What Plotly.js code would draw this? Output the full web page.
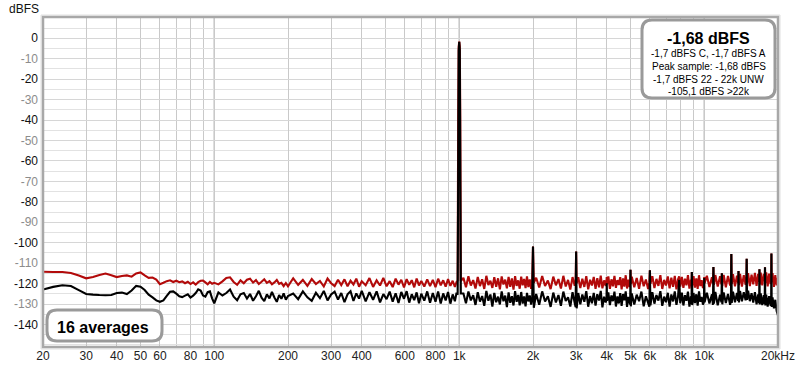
<!DOCTYPE html>
<html>
<head>
<meta charset="utf-8">
<script src="https://cdn.plot.ly/plotly-3.0.1.min.js"></script>
<style>html,body{margin:0;padding:0;background:#fff;}#chart{width:800px;height:370px;}</style>
</head>
<body>
<div id="chart"></div>
<script>
// ---------- DATA ----------
// 20 Hz - 100 Hz
const fA = [20,22,24,26,28,30,32,34,36,38,40,42,44,46,48,50,52,54,56,58,60,62,64,66,68,70,72,74,76,78,80,82,84,86,88,90,92,94,96,98,100];
const redA = [-114.2,-114.3,-114.3,-114.8,-116,-117.4,-116.8,-115.8,-115.1,-115.9,-116.8,-116.3,-116,-116.6,-115,-114.5,-116,-117.2,-117,-118,-120.3,-119.6,-118.8,-118.4,-119.2,-118.6,-119.3,-118.9,-119.8,-119.1,-120.2,-119.4,-120.5,-119.3,-118.6,-118.5,-119.4,-120.3,-119.2,-120.1,-119.6];
const blackA = [-122.9,-121.6,-120.8,-121.2,-123.2,-125.1,-125.4,-125.6,-125.7,-125.6,-124.6,-124.4,-125.1,-123.4,-121.1,-121.5,-123.1,-125.4,-126.7,-128.2,-128.9,-128.2,-126,-124,-123.8,-124.9,-126.2,-126.6,-125.9,-125.2,-126.8,-125.9,-124.6,-122.8,-123.4,-125.8,-126.4,-124.2,-123.8,-127.2,-129.6];
// 100 Hz - 200 Hz
const fB = [104,108,112,116,120,124,128,132,136,140,144,148,152,156,160,164,168,172,176,180,184,188,192,196,200];
const redB = [-120.4,-118.9,-117.2,-116.9,-119.2,-120.6,-118.4,-119.8,-118.1,-117.6,-119.5,-118.3,-120.2,-119.1,-117.9,-119.6,-118.8,-120.3,-119.4,-118.2,-120.1,-119.6,-121.2,-119.7,-121.3];
const blackB = [-124.3,-125.8,-124.6,-122.9,-126.4,-128.1,-125.2,-124.6,-127.3,-125.1,-128.4,-126.2,-123.5,-126.9,-128.6,-125.3,-127.2,-124.1,-126.8,-128.9,-125.6,-127.4,-124.8,-127.9,-126.1];
// 200 Hz - 1 kHz
const fC = [210,220,230,240,250,260,270,280,290,300,310,320,330,340,350,360,370,380,390,400,
            415,430,445,460,475,490,505,520,535,550,565,580,595,610,625,640,655,670,685,700,
            720,740,760,780,800,820,840,860,880,900,920,940,960,975];
const redC = [-117.4,-120.6,-118.2,-121.1,-117.8,-120.2,-118.7,-121.4,-117.5,-119.8,-121.2,-118.1,-120.7,-117.9,-121.3,-118.6,-120.4,-117.6,-121.5,-118.9,
              -120.8,-117.3,-121.6,-118.4,-120.9,-117.2,-121.3,-118.8,-121.7,-117.6,-120.5,-118.1,-121.9,-117.8,-120.6,-118.3,-121.8,-117.5,-120.9,-118.7,
              -121.4,-117.9,-121.2,-118.2,-121.7,-117.6,-120.8,-118.4,-121.5,-117.8,-121.1,-118.6,-121.6,-119.2];
const blackC = [-124.9,-127.6,-123.8,-126.7,-128.4,-124.5,-127.1,-123.6,-128.2,-125.3,-123.9,-127.8,-124.6,-129.1,-125.2,-123.7,-128.5,-124.8,-127.3,-123.5,
                -128.7,-124.2,-127.9,-123.8,-129.2,-125.1,-127.6,-123.9,-128.8,-124.7,-129.5,-124.1,-127.4,-123.7,-129.3,-125.2,-128.1,-124.3,-129.6,-124.9,
                -128.3,-123.8,-129.4,-124.6,-128.9,-123.9,-129.7,-124.8,-128.2,-124.1,-129.8,-125.3,-128.6,-124.4];
// 1 kHz fundamental
const fS = [985,990,995,1000,1005,1010,1015];
const redS = [-118.5,-40,-4,-1.7,-4,-40,-118.7];
const blackS = [-125.5,-70,-6,-1.7,-6,-70,-124.8];
// 1 kHz - 2 kHz
const fD = [1040,1065,1090,1115,1140,1165,1190,1215,1240,1265,1290,1315,1340,1365,1390,1415,1440,1465,1490,1515,
            1540,1565,1590,1615,1640,1665,1690,1715,1740,1765,1790,1815,1840,1865,1890,1915,1940,1965,1985,2000,2015];
const redD = [-117.2,-121.8,-116.4,-120.9,-118.3,-122.4,-116.8,-121.2,-117.9,-122.6,-116.2,-120.7,-118.6,-122.1,-116.9,-121.5,-117.4,-122.8,-116.5,-120.4,
              -118.1,-122.3,-116.7,-121.6,-117.5,-122.9,-116.3,-121.1,-118.4,-122.5,-116.6,-120.8,-117.7,-122.2,-116.4,-121.7,-117.9,-122.6,-118.2,-101.8,-119.6];
const blackD = [-124.8,-129.6,-123.9,-128.2,-125.7,-130.4,-124.2,-128.8,-126.1,-130.9,-123.6,-128.4,-125.3,-131.2,-124.6,-129.1,-126.4,-130.2,-123.8,-128.6,
                -125.9,-131.5,-124.3,-129.4,-126.2,-130.7,-123.7,-128.9,-125.5,-130.6,-124.1,-129.8,-126.3,-131.1,-124.5,-128.7,-125.8,-130.3,-127.2,-101.8,-131.8];
// 2 kHz - 5 kHz
const fE = [2060,2120,2180,2240,2300,2360,2420,2480,2540,2600,2660,2720,2780,2840,2900,2960,
            2985,3000,3015,
            3060,3120,3180,3240,3300,3360,3420,3480,3540,3600,3660,3720,3780,3840,3900,3960,
            3990,4000,4010,
            4060,4120,4180,4240,4300,4360,4420,4480,4540,4600,4660,4720,4780,4840,4900,4960,
            4985,5000,5015];
const redE = [-117.1,-121.9,-116.3,-121.2,-118.5,-122.7,-116.6,-120.8,-117.8,-122.4,-116.2,-121.4,-118.2,-122.9,-116.8,-121.1,
              -119.3,-104.3,-119.8,
              -116.9,-122.2,-117.6,-121.6,-116.4,-122.8,-118.1,-120.9,-116.7,-122.5,-117.3,-121.8,-116.1,-122.3,-118.4,-121.2,
              -118.6,-116.8,-120.4,
              -116.5,-122.6,-117.9,-121.3,-116.2,-122.1,-118.3,-120.7,-116.8,-122.8,-117.4,-121.5,-115.9,-122.4,-118.1,-121.7,
              -119.5,-113.2,-120.2];
const blackE = [-125.1,-130.3,-123.8,-128.7,-126.2,-131.4,-124.4,-129.2,-125.6,-130.8,-123.9,-128.5,-126.7,-131.2,-124.2,-129.5,
                -131.5,-104.3,-132.1,
                -124.6,-130.1,-125.3,-128.9,-123.7,-131.3,-126.1,-129.6,-124.5,-130.7,-125.2,-128.3,-123.6,-131.6,-126.4,-129.2,
                -127.8,-119.8,-128.4,
                -124.3,-130.5,-125.8,-128.6,-123.9,-131.2,-126.3,-129.7,-124.6,-130.9,-125.1,-128.2,-123.8,-131.4,-126.5,-129.3,
                -130.2,-113.2,-131.1];
// 5 kHz - 10 kHz
const fF = [5060,5180,5300,5420,5540,5660,5780,5900,
            5970,6000,6030,
            6140,6260,6380,6500,6620,6740,6860,6980,7100,7220,7340,7460,7580,7700,7820,
            7900,
            7980,8100,8220,8340,8460,8580,8700,8820,
            8870,8900,8930,
            9040,9160,9280,9400,9520,9640,9760,9880,
            9970,10000,10030];
const redF = [-116.6,-121.8,-117.2,-122.5,-116.1,-121.3,-118,-122.7,
              -119.4,-113.5,-120.1,
              -116.4,-122.2,-117.7,-121.1,-115.9,-122.6,-118.2,-120.9,-116.5,-122.3,-117.1,-121.6,-116.2,-122.8,-117.9,
              -116.4,
              -121.5,-116.7,-122.1,-117.6,-120.8,-115.8,-122.4,-118.1,
              -120.6,-114.3,-121.2,
              -116.3,-121.9,-117.4,-122.6,-115.9,-121.2,-118.3,-122.2,
              -120.4,-116.8,-119.8];
const blackF = [-124.8,-130.2,-125.4,-128.6,-123.9,-131.1,-126.2,-129.4,
                -131.3,-113.5,-130.6,
                -124.2,-129.8,-125.6,-128.3,-123.7,-130.9,-126.4,-129.1,-124.5,-131.2,-125.3,-128.7,-123.8,-130.4,-126.1,
                -118.2,
                -129.6,-124.4,-130.7,-125.7,-128.4,-123.9,-131.3,-126.3,
                -129.9,-114.3,-130.5,
                -124.6,-129.5,-125.2,-130.8,-123.8,-128.9,-126.5,-130.3,
                -128.8,-117.2,-129.1];
// 10 kHz - 20 kHz
const fG = [10250,10500,10750, 10850,10900,10950, 11100,11350,11600, 11750,11800,11850,
            12000,12250,12500,12750, 12850,12900,12950, 13100,13350,13600, 13750,13800,13850,
            14000,14250,14500,14750, 14850,14900,14950, 15100,15350,15600,15850,16100,16350,16600,
            16750,16800,16850, 17000,17250,17500, 17650,17700,17750, 17900,18150,18400,18650,
            18750,18800,18850, 19000,19250,19500,19750,20000];
const redG = [-116.2,-121.7,-116.9, -119.8,-111.9,-120.6, -115.8,-121.4,-116.4, -120.3,-115,-121.2,
              -115.7,-121.8,-116.3,-120.9, -118.9,-105.5,-120.2, -115.4,-121.3,-116.1, -119.7,-113.8,-120.8,
              -115.2,-121.5,-115.9,-120.6, -118.4,-107.8,-119.9, -114.9,-121.2,-115.6,-120.4,-114.7,-121.1,-115.3,
              -119.2,-113,-120.5, -114.6,-120.9,-115.2, -118.7,-112,-119.6, -114.5,-121.3,-115.1,-120.2,
              -118.1,-105.3,-119.4, -114.8,-121.6,-115.9,-120.8,-117.1];
const blackG = [-124.5,-129.7,-125.2, -130.4,-111.9,-129.8, -124.1,-130.6,-125.4, -129.2,-115,-130.1,
                -124.3,-129.5,-125.1,-130.3, -128.6,-105.5,-129.4, -123.9,-129.1,-124.6, -128.4,-113.8,-129.2,
                -123.6,-128.7,-124.2,-128.1, -127.3,-107.8,-127.9, -123.4,-128.6,-124.7,-129.3,-124.2,-130.1,-125.3,
                -129.6,-113,-130.2, -124.8,-130.5,-125.6, -129.9,-112,-130.7, -125.4,-131.2,-126.1,-130.8,
                -130.3,-105.3,-131.4, -126.7,-132.1,-127.9,-133.4,-135.6];

const xTickVals = [20,30,40,50,60,80,100,200,300,400,600,800,1000,2000,3000,4000,5000,6000,8000,10000,20000];
const xTickText = ['20','30','40','50','60','80','100','200','300','400','600','800','1k','2k','3k','4k','5k','6k','8k','10k','20kHz'];
const xMinorVals = [70,90,500,700,900,7000,9000];
const xMajorLines = [100,1000,10000];
const yTickVals = [0,-10,-20,-30,-40,-50,-60,-70,-80,-90,-100,-110,-120,-130,-140];
const yMinorVals = [5,-5,-15,-25,-35,-45,-55,-65,-75,-85,-95,-105,-115,-125,-135,-145,-150];

const headline = '-1,68 dBFS';
const infoLines = ['-1,7 dBFS C, -1,7 dBFS A','Peak sample: -1,68 dBFS','-1,7 dBFS 22 - 22k UNW','-105,1 dBFS >22k'];
const averagesText = '16 averages';

// ---------- BUILD ----------
const segs = [[fA,redA,blackA,'A'],[fB,redB,blackB,'B'],[fC,redC,blackC,'C'],[fS,redS,blackS,'S'],
              [fD,redD,blackD,'D'],[fE,redE,blackE,'E'],[fF,redF,blackF,'F'],[fG,redG,blackG,'G']];
let freqs=[], red=[], black=[];
segs.forEach(s=>{
  if(s[0].length!==s[1].length||s[0].length!==s[2].length) throw new Error('length mismatch '+s[3]+' '+s[0].length+' '+s[1].length+' '+s[2].length);
  freqs=freqs.concat(s[0]); red=red.concat(s[1]); black=black.concat(s[2]);
});

const L=43, T=17, W=735, H=330;
const px = x => (x-L)/W, py = y => (T+H-y)/H;
function roundRect(x0,y0,x1,y1,r){
  const f=(x,y)=>px(x).toFixed(5)+','+py(y).toFixed(5);
  return 'M'+f(x0+r,y0)+' L'+f(x1-r,y0)+' Q'+f(x1,y0)+' '+f(x1,y0+r)+
         ' L'+f(x1,y1-r)+' Q'+f(x1,y1)+' '+f(x1-r,y1)+
         ' L'+f(x0+r,y1)+' Q'+f(x0,y1)+' '+f(x0,y1-r)+
         ' L'+f(x0,y0+r)+' Q'+f(x0,y0)+' '+f(x0+r,y0)+' Z';
}

const yTickText = yTickVals.map((v,i)=> (i%2===0) ? String(v) : '<span style="color:#8c8c8c">'+v+'</span>');

const FONT = 'Liberation Sans, Arial, sans-serif';

const traces = [
  {x:freqs, y:red, type:'scatter', mode:'lines', line:{color:'#b20a0a', width:2.1, simplify:false}, hoverinfo:'skip'},
  {x:freqs, y:black, type:'scatter', mode:'lines', line:{color:'#000000', width:2.1, simplify:false}, hoverinfo:'skip'}
];

const shapes = [];
xMajorLines.forEach(v=>shapes.push({type:'line', xref:'x', yref:'paper', x0:v, x1:v, y0:0, y1:1, line:{color:'#7a7a7a', width:1}, layer:'between'}));
// plot frame
shapes.push({type:'rect', xref:'paper', yref:'paper', x0:px(41), x1:px(780), y0:py(15), y1:py(349), line:{color:'#e0e0e0', width:1}, layer:'above'});
shapes.push({type:'rect', xref:'paper', yref:'paper', x0:0, x1:1, y0:0, y1:1, line:{color:'#a8a8a8', width:2.5}, layer:'above'});
// info boxes
shapes.push({type:'path', xref:'paper', yref:'paper', path:roundRect(642,20,775,98,10), line:{color:'#9a9a9a', width:3}, fillcolor:'#ffffff', layer:'above'});
shapes.push({type:'path', xref:'paper', yref:'paper', path:roundRect(47,310,162,341,10), line:{color:'#9a9a9a', width:3}, fillcolor:'#ffffff', layer:'above'});

const annotations = [
  {xref:'paper', yref:'paper', x:px(24), y:py(9), text:'dBFS', showarrow:false, xanchor:'center', yanchor:'middle', font:{family:FONT, size:12, color:'#111'}},
  {xref:'paper', yref:'paper', x:px(708), y:py(38.5), text:'<b>'+headline+'</b>', showarrow:false, xanchor:'center', yanchor:'middle', font:{family:FONT, size:16, color:'#000'}},
  {xref:'paper', yref:'paper', x:px(103), y:py(327.5), text:'<b>'+averagesText+'</b>', showarrow:false, xanchor:'center', yanchor:'middle', font:{family:FONT, size:16, color:'#000'}}
];
const lineY = [53.5, 66.5, 79, 91];
infoLines.forEach((t,i)=>annotations.push({xref:'paper', yref:'paper', x:px(708.5), y:py(lineY[i]), text:t, showarrow:false, xanchor:'center', yanchor:'middle', font:{family:FONT, size:10, color:'#000'}}));

const layout = {
  width:800, height:370,
  margin:{l:L, r:800-L-W, t:T, b:370-T-H, pad:0},
  paper_bgcolor:'#ffffff', plot_bgcolor:'#ffffff',
  showlegend:false, hovermode:false,
  font:{family:FONT, size:12, color:'#222'},
  xaxis:{type:'log', range:[Math.log10(20), Math.log10(20000)], tickmode:'array', tickvals:xTickVals, ticktext:xTickText,
         showgrid:true, gridcolor:'#c9c9c9', gridwidth:1, zeroline:false, showline:false, ticks:'',
         tickfont:{family:FONT, size:12, color:'#222'},
         minor:{tickmode:'array', tickvals:xMinorVals, showgrid:true, gridcolor:'#c9c9c9', gridwidth:1, ticks:''}},
  yaxis:{range:[-151, 10.4], tickmode:'array', tickvals:yTickVals, ticktext:yTickText,
         showgrid:true, gridcolor:'#d6d6d6', gridwidth:1, zeroline:false, showline:false, ticks:'', ticklabelstandoff:4,
         tickfont:{family:FONT, size:12, color:'#111'},
         minor:{tickmode:'array', tickvals:yMinorVals, showgrid:true, gridcolor:'#e2e2e2', gridwidth:1, ticks:''}},
  shapes:shapes, annotations:annotations
};

Plotly.newPlot('chart', traces, layout, {staticPlot:true, displayModeBar:false});
</script>
</body>
</html>
